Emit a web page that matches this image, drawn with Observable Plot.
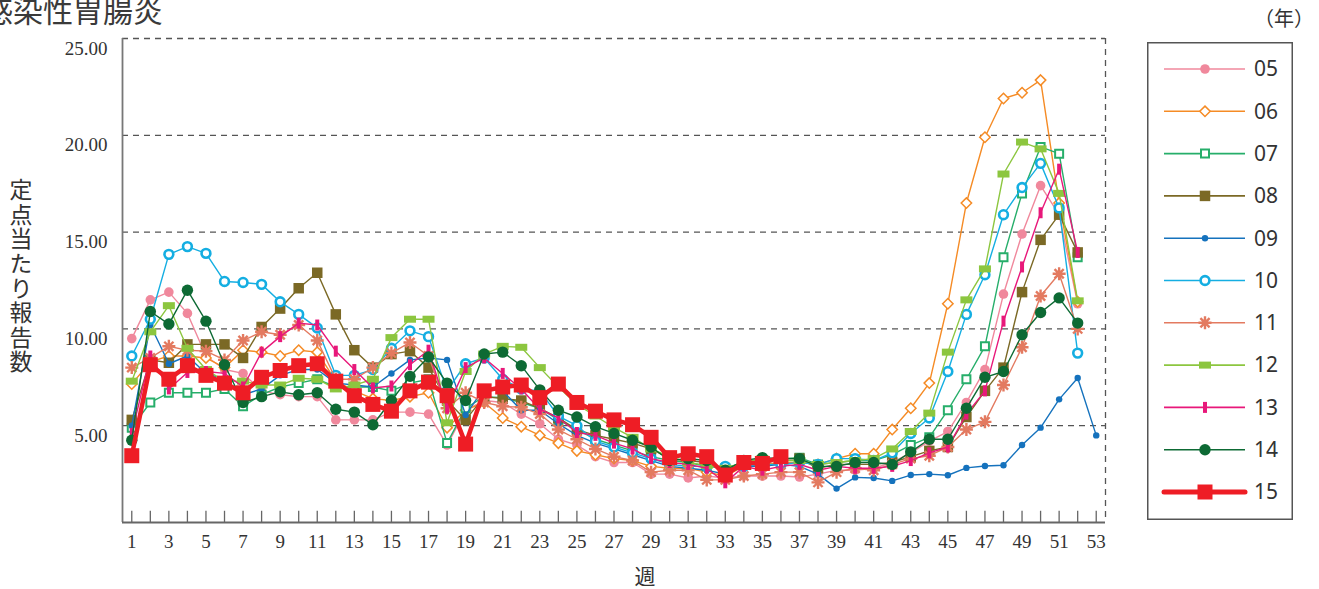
<!DOCTYPE html>
<html>
<head>
<meta charset="utf-8">
<script src="https://cdn.jsdelivr.net/npm/d3@7"></script>
<script src="https://cdn.jsdelivr.net/npm/@observablehq/plot@0.6"></script>
<style>
  html, body { margin: 0; padding: 0; background: #fff; }
  body { width: 1319px; height: 589px; overflow: hidden; position: relative;
         font-family: "Noto Sans CJK JP", "Noto Sans", sans-serif; color: #333; }
  #chart { position: absolute; left: 0; top: 0; }
  .title { position: absolute; left: -17px; top: -6px; font-size: 30px; line-height: 30px;
           color: #3a3a3a; white-space: nowrap; }
  .unit { position: absolute; left: 1254px; top: 6px; font-size: 20px; line-height: 24px; color: #333; white-space: nowrap; }
  .ylabel { position: absolute; left: 9px; top: 178px; font-size: 23px; line-height: 24px;
            writing-mode: vertical-rl; text-orientation: upright; letter-spacing: 1.6px; color: #333; }
  .xlabel { position: absolute; left: 645px; top: 575px; transform: translate(-50%, -50%);
            font-size: 21px; color: #333; }
  #legend { position: absolute; left: 1147px; top: 42px; }
</style>
</head>
<body>
<div id="chart"></div>
<div class="title">感染性胃腸炎</div>
<div class="unit">（年）</div>
<div class="ylabel">定点当たり報告数</div>
<div class="xlabel">週</div>
<svg id="legend" width="146" height="479"></svg>
<script>
// ---- data ----
const weeks = d3.range(1, 54);
const xTickLabels = d3.range(1, 54, 2);
const yTicks = [5, 10, 15, 20, 25];
const seriesNames = ["05", "06", "07", "08", "09", "10", "11", "12", "13", "14", "15"];

const y05 = [9.5,11.5,11.9,10.8,8.6,7.9,7.7,6.8,6.6,6.5,6.5,5.3,5.3,5.3,5.7,5.7,5.6,4.0,5.8,6.3,6.2,5.6,5.1,4.3,4.0,3.4,3.1,3.1,2.5,2.5,2.3,2.4,2.3,2.4,2.4,2.4,2.35,2.5,2.7,2.7,2.8,3.1,3.6,4.2,4.7,6.2,7.9,11.8,14.9,17.4,15.9,11.3];
const y06 = [7.15,8.3,8.6,8.6,8.5,8.0,8.9,8.8,8.6,8.9,8.8,7.3,6.8,6.4,6.3,6.5,6.7,4.9,5.8,6.2,5.4,4.95,4.5,4.1,3.7,3.5,3.3,3.2,2.9,2.8,2.8,2.6,2.4,2.9,3.0,3.1,3.1,3.0,3.3,3.55,3.55,4.8,5.9,7.2,11.3,16.5,19.9,21.9,22.2,22.85,16.5,11.4];
const y07 = [4.9,6.2,6.7,6.7,6.7,6.9,6.0,6.6,7.0,7.2,7.4,7.0,7.0,7.0,6.8,7.2,7.4,4.1,5.9,6.5,6.45,6.2,5.9,5.3,4.8,4.3,4.0,3.7,3.4,3.2,3.1,2.9,2.8,3.1,3.2,3.3,3.35,3.0,3.1,3.2,3.2,3.5,4.0,4.4,5.8,7.4,9.1,13.7,17.0,19.4,19.05,13.7];
const y08 = [5.3,8.4,8.25,9.2,9.2,9.2,8.5,10.1,11.05,12.1,12.9,10.75,8.9,8.0,8.7,8.85,8.0,6.3,5.3,6.5,6.4,6.3,5.9,5.4,4.8,4.5,4.3,4.1,3.8,3.3,3.2,3.1,2.6,3.2,3.2,3.3,3.3,2.8,3.0,3.0,3.0,3.1,3.4,3.7,3.9,5.45,6.8,8.0,11.9,14.6,15.9,13.95];
const y09 = [5.0,10.2,8.2,8.6,7.7,7.4,6.6,6.9,7.6,7.9,7.9,7.2,7.1,7.0,7.7,8.4,8.5,8.4,5.55,6.95,6.8,5.8,5.8,5.1,4.5,4.1,3.8,3.5,3.2,2.9,2.8,2.7,2.5,2.9,2.9,3.0,2.9,2.5,1.75,2.33,2.3,2.15,2.45,2.5,2.44,2.82,2.92,2.96,4.0,4.9,6.36,7.46,4.5];
const y10 = [8.6,10.5,13.85,14.25,13.9,12.45,12.4,12.3,11.4,10.75,10.05,7.6,7.6,7.9,9.0,9.9,9.6,6.8,8.2,8.5,7.4,6.9,6.8,5.5,5.0,4.2,3.9,3.6,3.3,3.0,2.9,2.9,2.9,2.9,3.0,3.0,3.1,3.0,3.3,3.3,3.2,3.6,4.6,5.4,7.8,10.75,12.8,15.9,17.3,18.55,16.25,8.75];
const y11 = [8.0,8.5,9.1,8.9,8.85,8.4,9.4,9.85,9.7,10.2,9.4,7.4,7.4,8.0,8.75,9.3,8.6,5.9,6.7,6.2,6.0,5.95,5.6,4.8,4.3,3.8,3.4,3.2,2.6,2.7,2.7,2.2,2.2,2.4,2.5,2.6,2.6,2.07,2.6,2.8,2.7,3.0,3.3,3.45,3.9,4.8,5.2,7.1,9.05,11.7,12.85,10.0];
const y12 = [7.3,9.85,11.2,9.0,7.9,7.3,7.3,7.1,7.1,7.45,7.4,6.9,7.1,7.4,9.55,10.5,10.5,5.15,7.8,8.7,9.1,9.05,8.0,7.0,6.1,5.5,4.9,4.4,3.8,3.4,3.1,2.95,2.8,3.1,3.3,3.2,3.2,3.0,3.1,3.2,3.3,3.8,4.7,5.65,8.8,11.5,13.1,18.0,19.65,19.3,17.0,11.45];
const y13 = [4.6,8.6,6.9,7.75,7.8,7.7,7.0,8.8,9.6,10.3,10.2,8.85,7.9,6.95,7.05,8.15,8.9,5.9,8.0,8.5,7.7,6.9,5.85,5.4,4.65,4.5,4.1,3.8,3.3,3.1,3.0,2.8,2.05,2.9,2.7,2.9,3.0,2.7,2.9,2.8,2.8,2.9,3.2,3.6,3.9,5.6,6.8,10.4,13.2,16.0,18.25,13.95];
const y14 = [4.25,10.9,10.25,12.0,10.4,8.15,6.2,6.5,6.75,6.6,6.7,5.85,5.7,5.05,6.3,7.55,8.55,7.2,6.3,8.7,8.8,8.1,6.85,5.8,5.45,4.95,4.6,4.25,3.9,3.2,3.3,3.2,2.7,3.2,3.35,3.3,3.3,2.9,2.9,3.1,3.1,3.0,3.65,4.3,4.3,5.9,7.5,7.8,9.7,10.85,11.6,10.3];
const y15 = [3.45,8.15,7.4,8.1,7.6,7.2,6.7,7.5,7.85,8.1,8.2,7.3,6.55,6.1,5.75,6.8,7.25,6.55,4.05,6.8,7.0,7.1,6.45,7.15,6.2,5.75,5.3,5.05,4.4,3.35,3.55,3.4,2.45,3.1,3.05,3.4];

const seriesValues = [y05, y06, y07, y08, y09, y10, y11, y12, y13, y14, y15];

// ---- symbols & styles ----
const sym = {
  circle: r => ({draw(c){ c.moveTo(r, 0); c.arc(0, 0, r, 0, 2 * Math.PI); c.closePath(); }}),
  square: s => ({draw(c){ c.rect(-s / 2, -s / 2, s, s); }}),
  rect: (w, h) => ({draw(c){ c.rect(-w / 2, -h / 2, w, h); }}),
  diamond: r => ({draw(c){ c.moveTo(0, -r); c.lineTo(r, 0); c.lineTo(0, r); c.lineTo(-r, 0); c.closePath(); }}),
  asterisk: r => ({draw(c){
    for (let k = 0; k < 4; k++) {
      const a = k * Math.PI / 4;
      c.moveTo(-r * Math.cos(a), -r * Math.sin(a));
      c.lineTo(r * Math.cos(a), r * Math.sin(a));
    }
  }})
};

const styles = [
  {color: "#f0889c", symbol: sym.circle(4.8), fill: "color", stroke: "none", sw: 0, lw: 1.4},
  {color: "#f58b25", symbol: sym.diamond(5.2), fill: "#fff", stroke: "color", sw: 1.5, lw: 1.4},
  {color: "#26ae6a", symbol: sym.square(8), fill: "#fff", stroke: "color", sw: 2, lw: 1.4},
  {color: "#7b6925", symbol: sym.square(10.5), fill: "color", stroke: "none", sw: 0, lw: 1.4},
  {color: "#1572bd", symbol: sym.circle(3.2), fill: "color", stroke: "none", sw: 0, lw: 1.4},
  {color: "#14aee2", symbol: sym.circle(4.4), fill: "#fff", stroke: "color", sw: 2.6, lw: 1.4},
  {color: "#e37a60", symbol: sym.asterisk(6.5), fill: "none", stroke: "color", sw: 2.4, lw: 1.4},
  {color: "#8cc63f", symbol: sym.rect(12, 7), fill: "color", stroke: "none", sw: 0, lw: 1.4},
  {color: "#e8187a", symbol: sym.rect(4, 11), fill: "color", stroke: "none", sw: 0, lw: 1.4},
  {color: "#0d6a34", symbol: sym.circle(5.7), fill: "color", stroke: "none", sw: 0, lw: 1.4},
  {color: "#ee1d25", symbol: sym.square(15), fill: "color", stroke: "none", sw: 0, lw: 4.5}
];

const col = (v, c) => v === "color" ? c : v;

const seriesMarks = [];
seriesNames.forEach((name, i) => {
  const vals = seriesValues[i];
  const st = styles[i];
  const rows = vals.map((v, j) => ({week: weeks[j], value: v, year: name}));
  seriesMarks.push(Plot.line(rows, {x: "week", y: "value", stroke: st.color, strokeWidth: st.lw, strokeLinejoin: "round"}));
  seriesMarks.push(Plot.dot(rows, {x: "week", y: "value", symbol: st.symbol, r: 5,
    fill: col(st.fill, st.color), stroke: col(st.stroke, st.color), strokeWidth: st.sw}));
});

const chart = Plot.plot({
  width: 1319,
  height: 589,
  marginLeft: 122,
  marginRight: 214,
  marginTop: 38,
  marginBottom: 67,
  x: {domain: [0.5, 53.5]},
  y: {domain: [0, 25]},
  style: {fontFamily: '"Liberation Serif", "DejaVu Serif", serif', fontSize: "19px", color: "#333", background: "transparent", overflow: "visible"},
  marks: [
    Plot.ruleY(yTicks, {stroke: "#555", strokeWidth: 1.3, strokeDasharray: "6,5"}),
    Plot.ruleX([53.5], {stroke: "#555", strokeWidth: 1.3, strokeDasharray: "6,5"}),
    Plot.ruleX([0.5], {stroke: "#777", strokeWidth: 1.8}),
    Plot.ruleY([0], {stroke: "#666", strokeWidth: 1.8}),
    Plot.ruleX(weeks, {x: d => d, y1: 0, y2: 0.58, stroke: "#666", strokeWidth: 1.3}),
    Plot.axisX({ticks: xTickLabels, tickSize: 0, tickPadding: 12, tickFormat: d => String(d), label: null, fontSize: 19}),
    Plot.axisY({ticks: yTicks, tickSize: 0, tickPadding: 15, tickFormat: d3.format(".2f"), label: null, dy: 10, fontSize: 19}),
    ...seriesMarks
  ]
});
document.getElementById("chart").appendChild(chart);

// ---- legend ----
const lg = d3.select("#legend");
lg.append("rect").attr("x", 0.75).attr("y", 0.75).attr("width", 144.5).attr("height", 476.5)
  .attr("fill", "none").attr("stroke", "#555").attr("stroke-width", 1.5);
seriesNames.forEach((name, i) => {
  const st = styles[i];
  const y = 27 + i * 42.3;
  const g = lg.append("g").attr("transform", `translate(0,${y})`);
  g.append("line").attr("x1", 17).attr("x2", 98).attr("y1", 0).attr("y2", 0)
    .attr("stroke", st.color).attr("stroke-width", i === 10 ? 5 : 1.6).attr("stroke-linecap", i === 10 ? "round" : "butt");
  const p = d3.path();
  st.symbol.draw(p);
  g.append("path").attr("d", p.toString()).attr("transform", "translate(58,0)")
    .attr("fill", col(st.fill, st.color)).attr("stroke", col(st.stroke, st.color)).attr("stroke-width", st.sw);
  g.append("text").attr("x", 107).attr("y", 0).attr("dy", "0.35em").text(name)
    .attr("font-family", '"Noto Sans", "Open Sans", sans-serif').attr("font-size", 21).attr("fill", "#333");
});
</script>
</body>
</html>
